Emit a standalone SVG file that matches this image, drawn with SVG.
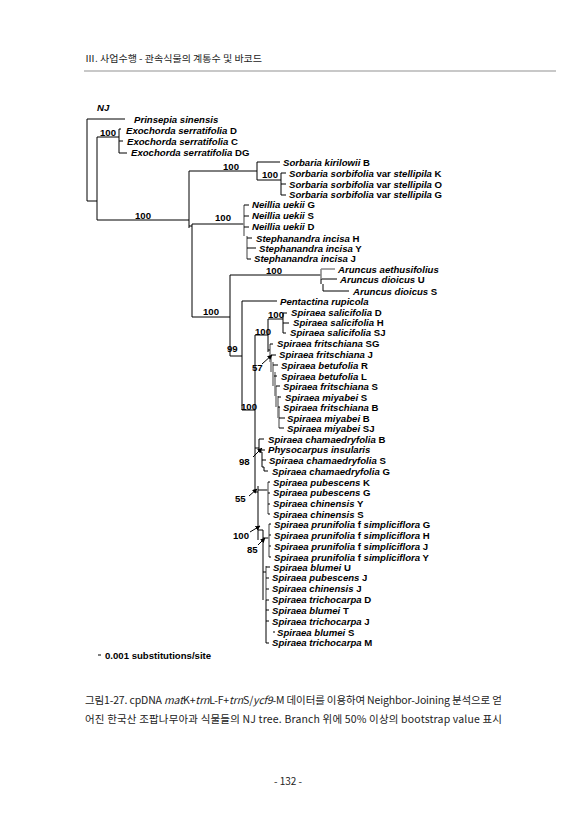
<svg xmlns="http://www.w3.org/2000/svg" width="587" height="830" viewBox="0 0 587 830">
<defs>
<style>
.t{font-family:"Liberation Sans",Arial,sans-serif;font-size:9.6px;font-weight:bold;font-style:italic;fill:#000}
.n{font-style:normal}
.b{font-family:"Liberation Sans",Arial,sans-serif;font-size:9.6px;font-weight:bold;fill:#000}
.k{font-family:"Noto Sans CJK KR",sans-serif;fill:#222}
.ln{fill:none;stroke:#000;stroke-width:1}
.gr{fill:none;stroke:#888;stroke-width:1.6}
.ar{fill:none;stroke:#000;stroke-width:1;marker-end:url(#ah)}
</style>
<marker id="ah" viewBox="0 0 10 10" refX="9" refY="5" markerWidth="5" markerHeight="5" orient="auto">
<path d="M0,0 L10,5 L0,10 z" fill="#000"/>
</marker>
</defs>
<rect width="587" height="830" fill="#fff"/>

<g id="header">
<text class="k" x="85" y="62" font-size="9.5" textLength="177" lengthAdjust="spacingAndGlyphs">Ⅲ. 사업수행 - 관속식물의 계통수 및 바코드</text>
<line x1="84" y1="71" x2="556" y2="71" stroke="#c8c8c8" stroke-width="2"/>
</g>

<g id="connectors">
<path class="ln" d="M87,119 H125 M87,119 V201 H97 M97,137 V220 M97,137 H119 M119,129 V153 M119,129 H121 M119,141 H123 M119,153 H127"/>
<path class="ln" d="M97,220 H189 M189,171 V228 M189,171 H257 M257,162 V180 M257,162 H280 M257,180 H281 M281,173 V195 M281,173 H286 M281,184 H286 M281,195 H286"/>
<path class="ln" d="M189,226 H192 M192,224 V317 M192,224 H244"/>
<path class="gr" d="M244,205 V236 M247,236 V259"/>
<path class="ln" d="M244,205 H249 M244,216 H249 M244,227 H249 M247,238 H252 M247,248 H256 M247,259 H251"/>
<path class="ln" d="M192,317 H230 M230,275 V356 M230,275 H321 M321,279 V284 M321,279 H337 M323,284 V291 H349"/>
<path class="gr" d="M321,269 V279 M321,269 H335"/>
<path class="ln" d="M230,356 H242 M242,301 V410 M242,301 H277 M242,410 H255 M255,335 V492 M255,335 H268 M268,319 V352 M268,319 H283 M283,313 V333 M283,313 H287 M283,323 H289 M283,333 H286"/>
<path class="gr" d="M270,344 V362 M271,355 V372 M273,362 V386 M275,372 V396 M276,386 V407 M278,396 V418 M279,407 V428"/>
<path class="ln" d="M268,350 H270 M270,344 H273 M271,355 H276 M273,365 H278 M274,376 H277 M276,386 H280 M278,397 H281 M278,407 H280 M279,418 H285 M279,428 H284"/>
<path class="ln" d="M255,448 H259 M259,439 V452 M259,439 H264 M259,450 H265 M259,452 H262 V467 M262,460 H266 M262,467 H264 V471 H268"/>
<path class="ln" d="M255,492 H258 M258,486 V540 M258,490 H268"/>
<path class="gr" d="M268,482 V514"/>
<path class="ln" d="M268,482 H270 M268,493 H270 M268,504 H270 M268,514 H270"/>
<path class="ln" d="M258,530 H263 M263,530 V600 M263,538 H269"/>
<path class="gr" d="M269,524 V557 M266,566 V600"/>
<path class="ln" d="M269,524 H271 M269,535 H271 M269,546 H271 M269,557 H271 M263,572 H266 M266,567 H270 M266,578 H269 M266,589 H269 M266,600 V643 M266,600 H269 M266,610 H269 M266,621 H269 M273,632 H275 M266,643 H269"/>
<path class="ar" d="M262,364 L272,355"/>
<path class="ar" d="M253,457 L262,448"/>
<path class="ar" d="M249,496 L257,489"/>
<path class="ar" d="M250,532 L260,526"/>
<path class="ar" d="M258,545 L265,538"/>
<line x1="98" y1="655" x2="101" y2="655" stroke="#000" stroke-width="1"/>
</g>

<g id="bootstrap">
<text class="b" x="100" y="135.5">100</text>
<text class="b" x="223" y="169.5">100</text>
<text class="b" x="262" y="177.5">100</text>
<text class="b" x="135" y="218.5">100</text>
<text class="b" x="215" y="220.5">100</text>
<text class="b" x="266" y="274">100</text>
<text class="b" x="203" y="314.5">100</text>
<text class="b" x="268" y="317.5">100</text>
<text class="b" x="255" y="335">100</text>
<text class="b" x="227" y="351.5">99</text>
<text class="b" x="252" y="370.5">57</text>
<text class="b" x="241" y="409.5">100</text>
<text class="b" x="239" y="464.5">98</text>
<text class="b" x="235" y="501.5">55</text>
<text class="b" x="233" y="538.5">100</text>
<text class="b" x="247" y="552.5">85</text>
</g>

<g id="title"><text class="t" x="97" y="110.5">NJ</text></g>
<g id="tip-prinsepia"><text class="t" x="134" y="122.5">Prinsepia sinensis</text></g>
<g id="tip-exo-d"><text class="t" x="126" y="133.5">Exochorda serratifolia<tspan class="n"> D</tspan></text></g>
<g id="tip-exo-c"><text class="t" x="127" y="144.5">Exochorda serratifolia<tspan class="n"> C</tspan></text></g>
<g id="tip-exo-dg"><text class="t" x="131" y="155.5">Exochorda serratifolia<tspan class="n"> DG</tspan></text></g>
<g id="tip-sorb-kb"><text class="t" x="283" y="165.5">Sorbaria kirilowii<tspan class="n"> B</tspan></text></g>
<g id="tip-sorb-k"><text class="t" x="289" y="176.5">Sorbaria sorbifolia<tspan class="n"> var </tspan>stellipila<tspan class="n"> K</tspan></text></g>
<g id="tip-sorb-o"><text class="t" x="289" y="187.5">Sorbaria sorbifolia<tspan class="n"> var </tspan>stellipila<tspan class="n"> O</tspan></text></g>
<g id="tip-sorb-g"><text class="t" x="289" y="198">Sorbaria sorbifolia<tspan class="n"> var </tspan>stellipila<tspan class="n"> G</tspan></text></g>
<g id="tip-neil-g"><text class="t" x="252" y="208">Neillia uekii<tspan class="n"> G</tspan></text></g>
<g id="tip-neil-s"><text class="t" x="252" y="219">Neillia uekii<tspan class="n"> S</tspan></text></g>
<g id="tip-neil-d"><text class="t" x="252" y="230">Neillia uekii<tspan class="n"> D</tspan></text></g>
<g id="tip-step-h"><text class="t" x="256" y="241.5">Stephanandra incisa<tspan class="n"> H</tspan></text></g>
<g id="tip-step-y"><text class="t" x="259" y="251.5">Stephanandra incisa<tspan class="n"> Y</tspan></text></g>
<g id="tip-step-j"><text class="t" x="254" y="262">Stephanandra incisa<tspan class="n"> J</tspan></text></g>
<g id="tip-arun-a"><text class="t" x="338" y="273">Aruncus aethusifolius</text></g>
<g id="tip-arun-u"><text class="t" x="340" y="283">Aruncus dioicus<tspan class="n"> U</tspan></text></g>
<g id="tip-arun-s"><text class="t" x="353" y="294.5">Aruncus dioicus<tspan class="n"> S</tspan></text></g>
<g id="tip-pent"><text class="t" x="280" y="305">Pentactina rupicola</text></g>
<g id="tip-sal-d"><text class="t" x="291" y="316">Spiraea salicifolia<tspan class="n"> D</tspan></text></g>
<g id="tip-sal-h"><text class="t" x="293" y="326">Spiraea salicifolia<tspan class="n"> H</tspan></text></g>
<g id="tip-sal-sj"><text class="t" x="290" y="336">Spiraea salicifolia<tspan class="n"> SJ</tspan></text></g>
<g id="tip-fri-sg"><text class="t" x="277" y="347">Spiraea fritschiana<tspan class="n"> SG</tspan></text></g>
<g id="tip-fri-j"><text class="t" x="279" y="358">Spiraea fritschiana<tspan class="n"> J</tspan></text></g>
<g id="tip-bet-r"><text class="t" x="281" y="368.5">Spiraea betufolia<tspan class="n"> R</tspan></text></g>
<g id="tip-bet-l"><text class="t" x="281" y="379.5">Spiraea betufolia<tspan class="n"> L</tspan></text></g>
<g id="tip-fri-s"><text class="t" x="283" y="389.5">Spiraea fritschiana<tspan class="n"> S</tspan></text></g>
<g id="tip-miy-s"><text class="t" x="285" y="400.5">Spiraea miyabei<tspan class="n"> S</tspan></text></g>
<g id="tip-fri-b"><text class="t" x="283" y="410.5">Spiraea fritschiana<tspan class="n"> B</tspan></text></g>
<g id="tip-miy-b"><text class="t" x="287" y="421.5">Spiraea miyabei<tspan class="n"> B</tspan></text></g>
<g id="tip-miy-sj"><text class="t" x="287" y="431.5">Spiraea miyabei<tspan class="n"> SJ</tspan></text></g>
<g id="tip-cha-b"><text class="t" x="268" y="442.5">Spiraea chamaedryfolia<tspan class="n"> B</tspan></text></g>
<g id="tip-phys"><text class="t" x="268" y="453">Physocarpus insularis</text></g>
<g id="tip-cha-s"><text class="t" x="269" y="463.5">Spiraea chamaedryfolia<tspan class="n"> S</tspan></text></g>
<g id="tip-cha-g"><text class="t" x="272" y="474.5">Spiraea chamaedryfolia<tspan class="n"> G</tspan></text></g>
<g id="tip-pub-k"><text class="t" x="273" y="485.5">Spiraea pubescens<tspan class="n"> K</tspan></text></g>
<g id="tip-pub-g"><text class="t" x="273" y="496">Spiraea pubescens<tspan class="n"> G</tspan></text></g>
<g id="tip-chi-y"><text class="t" x="273" y="507">Spiraea chinensis<tspan class="n"> Y</tspan></text></g>
<g id="tip-chi-s"><text class="t" x="273" y="517.5">Spiraea chinensis<tspan class="n"> S</tspan></text></g>
<g id="tip-pru-g"><text class="t" x="274" y="527.5">Spiraea prunifolia<tspan class="n"> f </tspan>simpliciflora<tspan class="n"> G</tspan></text></g>
<g id="tip-pru-h"><text class="t" x="274" y="538.5">Spiraea prunifolia<tspan class="n"> f </tspan>simpliciflora<tspan class="n"> H</tspan></text></g>
<g id="tip-pru-j"><text class="t" x="274" y="549.5">Spiraea prunifolia<tspan class="n"> f </tspan>simpliciflora<tspan class="n"> J</tspan></text></g>
<g id="tip-pru-y"><text class="t" x="274" y="560.5">Spiraea prunifolia<tspan class="n"> f </tspan>simpliciflora<tspan class="n"> Y</tspan></text></g>
<g id="tip-blu-u"><text class="t" x="273" y="570.5">Spiraea blumei<tspan class="n"> U</tspan></text></g>
<g id="tip-pub-j"><text class="t" x="272" y="581">Spiraea pubescens<tspan class="n"> J</tspan></text></g>
<g id="tip-chi-j"><text class="t" x="272" y="592">Spiraea chinensis<tspan class="n"> J</tspan></text></g>
<g id="tip-tri-d"><text class="t" x="272" y="603">Spiraea trichocarpa<tspan class="n"> D</tspan></text></g>
<g id="tip-blu-t"><text class="t" x="272" y="613.5">Spiraea blumei<tspan class="n"> T</tspan></text></g>
<g id="tip-tri-j"><text class="t" x="272" y="624.5">Spiraea trichocarpa<tspan class="n"> J</tspan></text></g>
<g id="tip-blu-s"><text class="t" x="277" y="635.5">Spiraea blumei<tspan class="n"> S</tspan></text></g>
<g id="tip-tri-m"><text class="t" x="272" y="645.5">Spiraea trichocarpa<tspan class="n"> M</tspan></text></g>

<g id="scale"><text class="b" x="105" y="658.5">0.001 substitutions/site</text></g>

<g id="caption">
<text class="k" x="85" y="704" font-size="10.5" textLength="417" lengthAdjust="spacing">그림1-27. cpDNA <tspan font-style="italic">mat</tspan>K+<tspan font-style="italic">trn</tspan>L-F+<tspan font-style="italic">trn</tspan>S/<tspan font-style="italic">ycf9</tspan>-M 데이터를 이용하여 Neighbor-Joining 분석으로 얻</text>
<text class="k" x="85" y="723" font-size="10.5" textLength="417" lengthAdjust="spacing">어진 한국산 조팝나무아과 식물들의 NJ tree. Branch 위에 50% 이상의 bootstrap value 표시</text>
</g>

<g id="page"><text class="k" x="288" y="785" font-size="10" text-anchor="middle">- 132 -</text></g>
</svg>
